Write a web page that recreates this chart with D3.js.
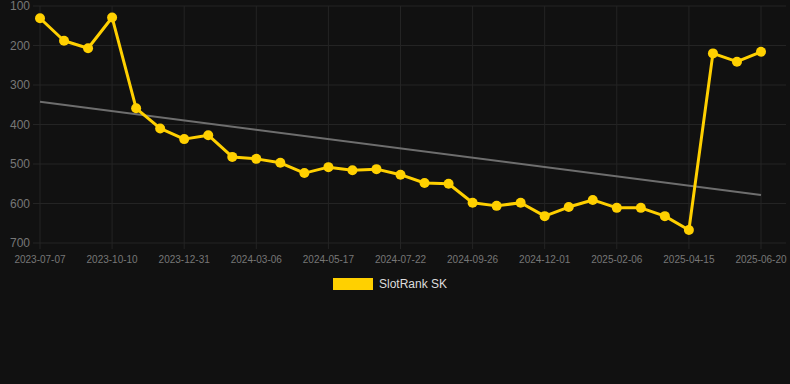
<!DOCTYPE html>
<html>
<head>
<meta charset="utf-8">
<script src="https://cdn.jsdelivr.net/npm/d3@7"></script>
<style>
  body { margin: 0; background: #111111; }
  svg { display: block; font-family: "Liberation Sans", Arial, sans-serif; }
</style>
</head>
<body>
<div id="chart"></div>
<script>
const dates = [
    "2023-07-07", "2023-08-08", "2023-09-09", "2023-10-10", "2023-11-06", "2023-12-03",
    "2023-12-31", "2024-01-22", "2024-02-13", "2024-03-06", "2024-03-30", "2024-04-23",
    "2024-05-17", "2024-06-08", "2024-06-30", "2024-07-22", "2024-08-13", "2024-09-04",
    "2024-09-26", "2024-10-18", "2024-11-09", "2024-12-01", "2024-12-23", "2025-01-14",
    "2025-02-06", "2025-02-28", "2025-03-23", "2025-04-15", "2025-05-07", "2025-05-29",
    "2025-06-20"
];
const ranks = [
    131, 188, 207, 129, 359, 410, 437, 427, 482, 487, 497, 523, 508, 516, 513, 527,
    548, 550, 598, 606, 598, 632, 609, 591, 611, 611, 632, 667, 220, 241, 216
];
const yTicks = [100, 200, 300, 400, 500, 600, 700];
const seriesName = "SlotRank SK";

const width = 790, height = 384;
const plotLeft = 40, plotRight = 761, plotTop = 6, plotBottom = 243;

const svg = d3.select("#chart").append("svg")
    .attr("width", width)
    .attr("height", height);

const x = d3.scalePoint()
    .domain(dates)
    .range([plotLeft, plotRight]);

// rank axis: smaller is better, so 100 sits on top
const y = d3.scaleLinear()
    .domain([100, 700])
    .range([plotTop, plotBottom]);

const gridColor = "#242424";

// horizontal grid + labels
svg.append("g")
    .selectAll("line")
    .data(yTicks)
    .join("line")
    .attr("x1", 33).attr("x2", 786)
    .attr("y1", d => y(d)).attr("y2", d => y(d))
    .attr("stroke", gridColor);

svg.append("g")
    .selectAll("text")
    .data(yTicks)
    .join("text")
    .attr("x", 30)
    .attr("y", d => y(d))
    .attr("dy", "0.35em")
    .attr("text-anchor", "end")
    .attr("fill", "#777")
    .style("font-size", "12px")
    .text(d => d);

// vertical grid every third date
const labelDates = dates.filter((d, i) => i % 3 === 0);

svg.append("g")
    .selectAll("line")
    .data(labelDates)
    .join("line")
    .attr("x1", d => x(d)).attr("x2", d => x(d))
    .attr("y1", plotTop).attr("y2", plotBottom + 6)
    .attr("stroke", gridColor);

svg.append("g")
    .selectAll("text")
    .data(labelDates)
    .join("text")
    .attr("x", d => x(d))
    .attr("y", 263)
    .attr("text-anchor", "middle")
    .attr("fill", "#777")
    .style("font-size", "10px")
    .text(d => d);

// linear trend over the point index
const n = ranks.length;
const meanI = (n - 1) / 2;
const meanY = d3.mean(ranks);
const slope = d3.sum(ranks, (v, i) => (i - meanI) * (v - meanY)) /
    d3.sum(ranks, (v, i) => (i - meanI) * (i - meanI));
const trend = i => meanY + slope * (i - meanI);

svg.append("line")
    .attr("x1", x(dates[0])).attr("y1", y(trend(0)))
    .attr("x2", x(dates[n - 1])).attr("y2", y(trend(n - 1)))
    .attr("stroke", "#6e6e6e")
    .attr("stroke-width", 2);

// rank line
const gold = "#ffd000";
const line = d3.line()
    .x((d, i) => x(dates[i]))
    .y(d => y(d));

svg.append("path")
    .datum(ranks)
    .attr("fill", "none")
    .attr("stroke", gold)
    .attr("stroke-width", 3)
    .attr("stroke-linejoin", "round")
    .attr("d", line);

svg.append("g")
    .selectAll("circle")
    .data(ranks)
    .join("circle")
    .attr("cx", (d, i) => x(dates[i]))
    .attr("cy", d => y(d))
    .attr("r", 5)
    .attr("fill", gold);

// legend
const legend = svg.append("g").attr("transform", "translate(333,278)");
legend.append("rect")
    .attr("width", 40)
    .attr("height", 12)
    .attr("fill", gold);
legend.append("text")
    .attr("x", 46)
    .attr("y", 6)
    .attr("dy", "0.35em")
    .attr("fill", "#dddddd")
    .style("font-size", "12px")
    .text(seriesName);
</script>
</body>
</html>
